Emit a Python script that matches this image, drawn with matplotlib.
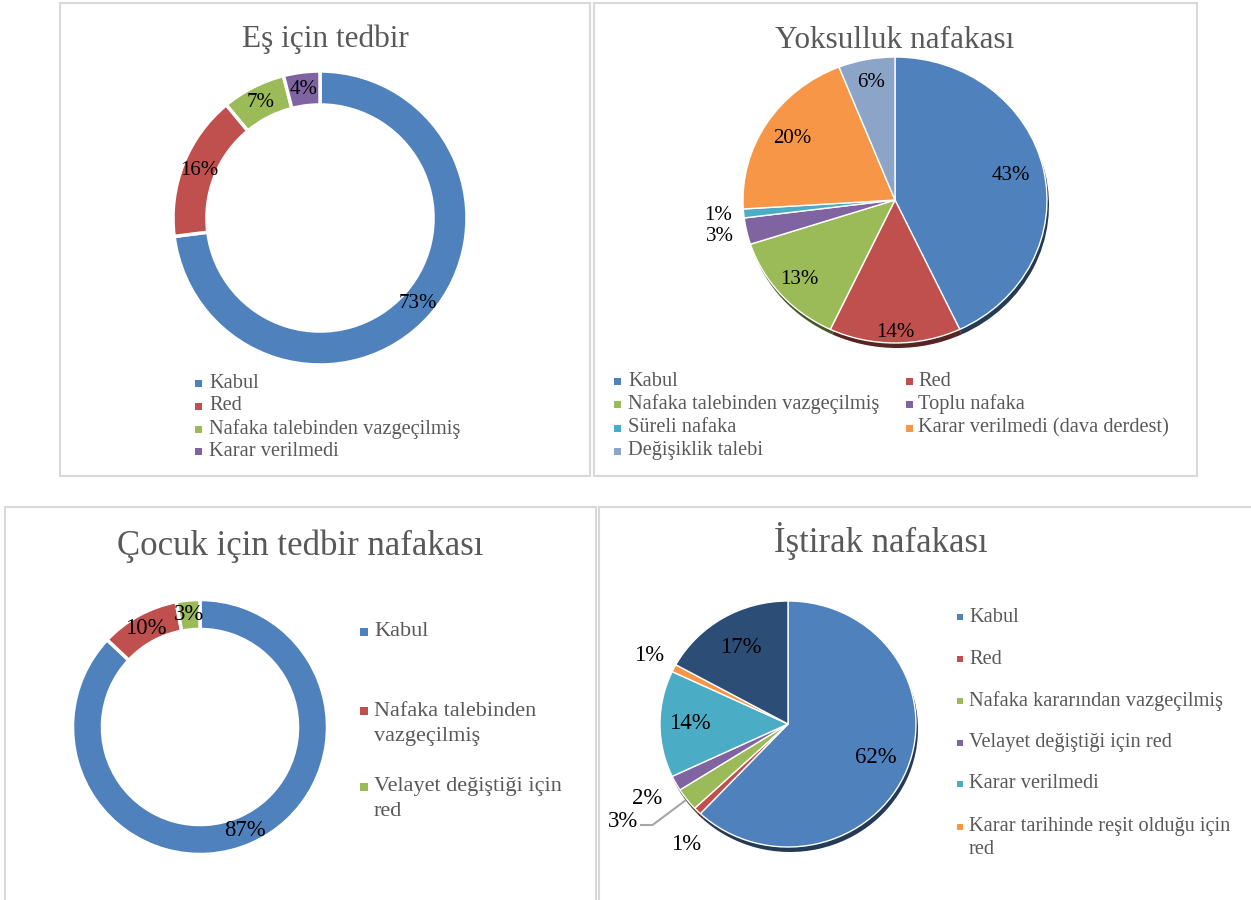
import numpy as np
import matplotlib
matplotlib.use("Agg")
import matplotlib.pyplot as plt
import matplotlib.colors as mcolors
from matplotlib.patches import Rectangle

# ---- data ----
es_labels = ["Kabul", "Red", "Nafaka talebinden vazgeçilmiş", "Karar verilmedi"]
es_values = [73, 16, 7, 4]

yok_labels = ["Kabul", "Red", "Nafaka talebinden vazgeçilmiş", "Toplu nafaka",
              "Süreli nafaka", "Karar verilmedi (dava derdest)", "Değişiklik talebi"]
yok_values = [43, 14, 13, 3, 1, 20, 6]

cocuk_labels = ["Kabul", "Nafaka talebinden\nvazgeçilmiş", "Velayet değiştiği için\nred"]
cocuk_values = [87, 10, 3]

istirak_labels = ["Kabul", "Red", "Nafaka kararından vazgeçilmiş", "Velayet değiştiği için red",
                  "Karar verilmedi", "Karar tarihinde reşit olduğu için\nred", "Diğer"]
istirak_values = [62, 1, 3, 2, 14, 1, 17]

BLUE, RED, GREEN, PURPLE = "#4F81BD", "#C0504D", "#9BBB59", "#8064A2"
AQUA, ORANGE, LIGHT, NAVY = "#4BACC6", "#F79646", "#8DA4C9", "#2C4D75"
es_colors = [BLUE, RED, GREEN, PURPLE]
yok_colors = [BLUE, RED, GREEN, PURPLE, AQUA, ORANGE, LIGHT]
cocuk_colors = [BLUE, RED, GREEN]
istirak_colors = [BLUE, RED, GREEN, PURPLE, AQUA, ORANGE, NAVY]

W, H = 1251, 900
GREY_TXT = "#595959"
plt.rcParams["font.family"] = ["Liberation Serif", "DejaVu Serif"]

fig = plt.figure(figsize=(W / 100, H / 100), dpi=100)


def fx(x):
    return x / W


def fy(y):
    return 1 - y / H


def pie_axes(cx, cy, rx, ry):
    return fig.add_axes([fx(cx - rx), fy(cy + ry), 2 * rx / W, 2 * ry / H])


def finish(ax):
    ax.set_aspect("auto")
    ax.set_xlim(-1, 1)
    ax.set_ylim(-1, 1)
    ax.axis("off")


def panel(x0, y0, x1, y1):
    fig.add_artist(Rectangle((fx(x0), fy(y1)), (x1 - x0) / W, (y1 - y0) / H,
                             transform=fig.transFigure, fill=False,
                             ec="#d9d9d9", lw=1.5))


def title(x, y, s, size):
    fig.text(fx(x), fy(y), s, ha="center", va="baseline", fontsize=size, color=GREY_TXT)


def legend(labels, colors, xm, xt, ys, fs, ms=7, pitch=23):
    for lab, col, y in zip(labels, colors, ys):
        fig.add_artist(Rectangle((fx(xm), fy(y + ms / 2)), ms / W, ms / H,
                                 transform=fig.transFigure, color=col, lw=0))
        for i, line in enumerate(lab.split("\n")):
            fig.text(fx(xt), fy(y + i * pitch), line, ha="left", va="center",
                     fontsize=fs, color=GREY_TXT)


def darken(c, f=0.45):
    return tuple(np.array(mcolors.to_rgb(c)) * f)


def donut(cx, cy, r, values, colors, width, fs):
    ax = pie_axes(cx, cy, r, r)
    ax.pie(values, colors=colors, startangle=90, counterclock=False,
           autopct="%1.0f%%", pctdistance=1 - width / 2,
           wedgeprops=dict(width=width, edgecolor="white", linewidth=2.5),
           textprops=dict(fontsize=fs, color="black"))
    finish(ax)
    return ax


def pie3d(cx, cy, rx, ry, values, colors, label_r, fs, sdx=2, sdy=5):
    sax = pie_axes(cx + sdx, cy + sdy, rx, ry)
    sax.pie(values, colors=[darken(c) for c in colors], startangle=90, counterclock=False)
    finish(sax)
    ax = pie_axes(cx, cy, rx, ry)
    wedges, _, autos = ax.pie(values, colors=colors, startangle=90, counterclock=False,
                              autopct="%1.0f%%",
                              wedgeprops=dict(edgecolor="white", linewidth=1),
                              textprops=dict(fontsize=fs, color="black"))
    for w, t, r in zip(wedges, autos, label_r):
        m = np.deg2rad((w.theta1 + w.theta2) / 2)
        t.set_position((r * np.cos(m), r * np.sin(m)))
    finish(ax)
    return ax, wedges, autos


# ---- panels ----
panel(60, 3, 590, 476)
panel(594, 3, 1197, 476)
panel(5, 507, 596, 906)
panel(599, 507, 1260, 906)

# Eş için tedbir
title(325, 47, "Eş için tedbir", 22.5)
donut(320, 218, 147, es_values, es_colors, 0.231, 15)
legend(es_labels, es_colors, 195, 209, [383, 406, 429, 452], 14.7)

# Yoksulluk nafakası
title(895, 48, "Yoksulluk nafakası", 22.5)
pie3d(895, 200, 152, 143, yok_values, yok_colors,
      [0.78, 0.93, 0.84, 1.18, 1.17, 0.8, 0.84], 15)
yok_rows = [381, 381, 404.5, 404.5, 428, 428, 451]
for i, (lab, col, y) in enumerate(zip(yok_labels, yok_colors, yok_rows)):
    if i % 2 == 0:
        legend([lab], [col], 614, 628, [y], 14.7)
    else:
        legend([lab], [col], 906, 918, [y], 14.7)

# Çocuk için tedbir nafakası
title(300, 555, "Çocuk için tedbir nafakası", 25)
donut(200, 727, 127.5, cocuk_values, cocuk_colors, 0.235, 16.4)
legend(cocuk_labels, cocuk_colors, 360, 374, [632, 711, 787], 16, ms=8, pitch=25)

# İştirak nafakası
title(881, 552, "İştirak nafakası", 25)
ax, wedges, autos = pie3d(788, 724, 128, 123, istirak_values, istirak_colors,
                          [0.74, 1.26, 1.5, 1.26, 0.77, 1.22, 0.72], 16.4)
# nudge the small red label a bit
m = np.deg2rad((wedges[1].theta1 + wedges[1].theta2) / 2 + 6)
autos[1].set_position((1.26 * np.cos(m), 1.26 * np.sin(m)))
# leader line for the 3% label
m = np.deg2rad((wedges[2].theta1 + wedges[2].theta2) / 2)
p0 = (1.02 * np.cos(m), 1.02 * np.sin(m))
p1 = (1.34 * np.cos(m), 1.34 * np.sin(m))
p2 = (p1[0] - 0.09, p1[1])
ax.plot([p0[0], p1[0], p2[0]], [p0[1], p1[1], p2[1]], color="#a6a6a6", lw=1.5, clip_on=False)
autos[2].set_position((p2[0] - 0.02, p1[1] + 0.03))
autos[2].set_ha("right")
legend(istirak_labels[:6], istirak_colors[:6], 957, 969,
       [617, 659, 701, 743, 784, 827], 14.7, ms=6, pitch=22)

fig.savefig("out.png", dpi=100, facecolor="white")
